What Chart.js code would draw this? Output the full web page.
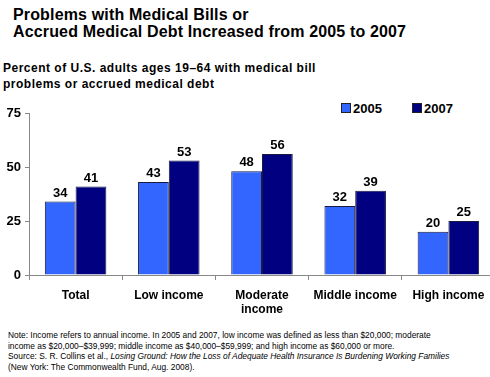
<!DOCTYPE html>
<html>
<head>
<meta charset="utf-8">
<script src="https://cdn.jsdelivr.net/npm/chart.js@4"></script>
<style>
  html, body { margin: 0; padding: 0; width: 490px; height: 377px; overflow: hidden; background: #fff; font-family: "Liberation Sans", Arial, sans-serif; }
  .title { position: absolute; left: 13px; top: 6px; font-size: 16px; font-weight: bold; line-height: 17px; color: #000; letter-spacing: 0.15px; }
  .subtitle { position: absolute; left: 3px; top: 60px; font-size: 12px; font-weight: bold; line-height: 16px; color: #000; letter-spacing: 0.5px; }
  .legend { position: absolute; top: 101px; font-size: 13px; font-weight: bold; color: #000; }
  .legend span.box { display: inline-block; width: 8px; height: 8px; border: 1px solid #222; margin-right: 2px; vertical-align: 0px; }
  .note { position: absolute; left: 8px; top: 330px; font-size: 8.4px; line-height: 10.5px; color: #000; }
  #wrap { position: absolute; left: 0; top: 100px; width: 495px; height: 225px; }
</style>
</head>
<body>
<div class="title">Problems with Medical Bills or<br>Accrued Medical Debt Increased from 2005 to 2007</div>
<div class="subtitle">Percent of U.S. adults ages 19–64 with medical bill<br>problems or accrued medical debt</div>
<div class="legend" style="left:341px"><span class="box" style="background:#3366FF"></span>2005</div>
<div class="legend" style="left:412px"><span class="box" style="background:#000080"></span>2007</div>
<div id="wrap"><canvas id="chart"></canvas></div>
<div class="note">Note: Income refers to annual income. In 2005 and 2007, low income was defined as less than $20,000; moderate<br>income as $20,000–$39,999; middle income as $40,000–$59,999; and high income as $60,000 or more.<br>Source: S. R. Collins et al., <i>Losing Ground: How the Loss of Adequate Health Insurance Is Burdening Working Families</i><br>(New York: The Commonwealth Fund, Aug. 2008).</div>
<script>
const categories = ['Total', 'Low income', ['Moderate', 'income'], 'Middle income', 'High income'];
const values2005 = [34, 43, 48, 32, 20];
const values2007 = [41, 53, 56, 39, 25];
const yTicks = [0, 25, 50, 75];

// draw value above each bar
const valueLabels = {
    id: 'valueLabels',
    afterDatasetsDraw(chart) {
        const c = chart.ctx;
        c.save();
        c.font = 'bold 13px "Liberation Sans", Arial, sans-serif';
        c.fillStyle = '#000';
        c.textAlign = 'center';
        c.textBaseline = 'bottom';
        chart.data.datasets.forEach((ds, i) => {
            chart.getDatasetMeta(i).data.forEach((bar, j) => {
                c.fillText(ds.data[j], bar.x, bar.y - 2);
            });
        });
        c.restore();
    }
};

new Chart(document.getElementById('chart'), {
    type: 'bar',
    data: {
        labels: categories,
        datasets: [
            { label: '2005', data: values2005, backgroundColor: '#3366FF', borderColor: '#1a1a40', borderWidth: 1 },
            { label: '2007', data: values2007, backgroundColor: '#000080', borderColor: '#1a1a40', borderWidth: 1 }
        ]
    },
    options: {
        responsive: true,
        maintainAspectRatio: false,
        animation: false,
        layout: { padding: { top: 13, right: 0, left: 0, bottom: 0 } },
        plugins: { legend: { display: false }, tooltip: { enabled: false } },
        datasets: { bar: { categoryPercentage: 0.66, barPercentage: 1.0 } },
        scales: {
            x: {
                grid: { display: true, drawOnChartArea: false, drawTicks: true, tickLength: 5, offset: true, color: '#888' },
                border: { color: '#888' },
                ticks: { color: '#000', font: { weight: 'bold', size: 12, family: '"Liberation Sans", Arial' }, padding: 8, maxRotation: 0, autoSkip: false },
                afterFit: s => { s.height = 50; }
            },
            y: {
                min: 0, max: 75,
                afterBuildTicks: s => { s.ticks = yTicks.map(v => ({ value: v })); },
                grid: { display: true, drawOnChartArea: false, drawTicks: true, tickLength: 4, color: '#888' },
                border: { color: '#888' },
                ticks: { color: '#000', font: { weight: 'bold', size: 13, family: '"Liberation Sans", Arial' }, padding: 4 },
                afterFit: s => { s.width = 29; }
            }
        }
    },
    plugins: [valueLabels]
});
</script>
</body>
</html>
